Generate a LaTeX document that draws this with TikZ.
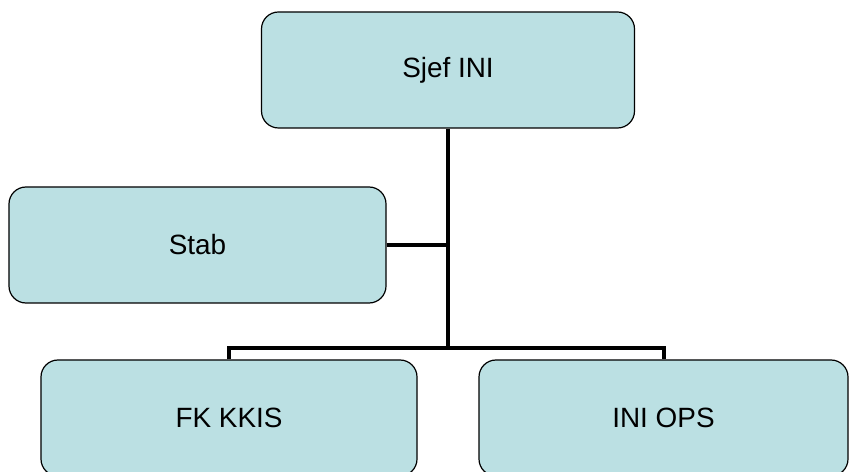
\documentclass[tikz,border=0pt]{standalone}
\usepackage{fontspec}
\setmainfont{Liberation Sans}
\usetikzlibrary{positioning}
\definecolor{boxfill}{HTML}{BBE0E3}

\begin{document}
\begin{tikzpicture}[x=1bp, y=-1bp, font=\fontsize{28}{32}\selectfont,
  unit/.style={draw, fill=boxfill, line width=1.2bp, rounded corners=17bp, minimum height=116bp, inner sep=0pt},
  link/.style={line width=4bp}]
\useasboundingbox (0,0) rectangle (851,472);
\node[unit, minimum width=373bp] (sjef) at (448,70) {Sjef INI};
\node[unit, minimum width=377bp] (stab) at (197.5,245) {Stab};
\node[unit, minimum width=376bp] (fk) at (229,418) {FK KKIS};
\node[unit, minimum width=369bp] (ops) at (663.5,418) {INI OPS};
\coordinate (bus) at (448,348);
\draw[link] (sjef) -- (bus);
\draw[link] (stab) -- (stab -| bus);
\draw[link] (fk.north) |- (bus) -| (ops.north);
\end{tikzpicture}
\end{document}
